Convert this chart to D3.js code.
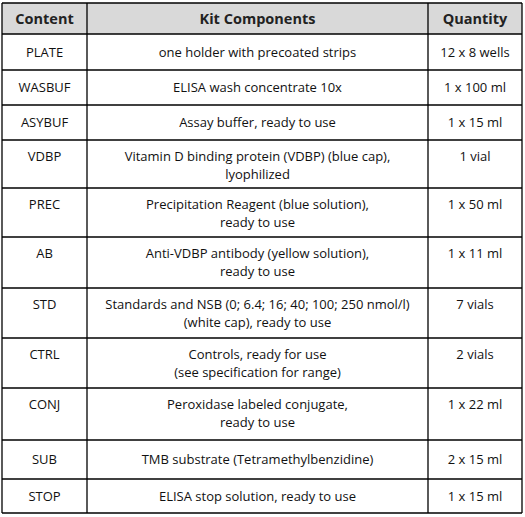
<!DOCTYPE html>
<html><head><meta charset="utf-8">
<script src="https://cdn.jsdelivr.net/npm/d3@7"></script>
<style>body{margin:0;background:#fff}</style></head>
<body><svg id="c" width="525" height="517"></svg>
<script>
const headers = ["Content","Kit Components","Quantity"];
const codes = ["PLATE","WASBUF","ASYBUF","VDBP","PREC","AB","STD","CTRL","CONJ","SUB","STOP"];
const components = [
 ["one holder with precoated strips"],
 ["ELISA wash concentrate 10x"],
 ["Assay buffer, ready to use"],
 ["Vitamin D binding protein (VDBP) (blue cap),","lyophilized"],
 ["Precipitation Reagent (blue solution),","ready to use"],
 ["Anti-VDBP antibody (yellow solution),","ready to use"],
 ["Standards and NSB (0; 6.4; 16; 40; 100; 250 nmol/l)","(white cap), ready to use"],
 ["Controls, ready for use","(see specification for range)"],
 ["Peroxidase labeled conjugate,","ready to use"],
 ["TMB substrate (Tetramethylbenzidine)"],
 ["ELISA stop solution, ready to use"]
];
const quantities = ["12 x 8 wells","1 x 100 ml","1 x 15 ml","1 vial","1 x 50 ml","1 x 11 ml","7 vials","2 vials","1 x 22 ml","2 x 15 ml","1 x 15 ml"];
const rowBounds = [3,34,70,105,140,188,237,288,338,388,440,479,513];
const colBounds = [2,87,428,522];

const svg = d3.select("#c");
const font = "'Open Sans', 'Liberation Sans', sans-serif";
svg.append("rect").attr("x",colBounds[0]).attr("y",rowBounds[0])
  .attr("width",colBounds[3]-colBounds[0]).attr("height",rowBounds[1]-rowBounds[0]).attr("fill","#d9d9d9");
const cx = i => (colBounds[i]+colBounds[i+1])/2;
headers.forEach((h,i)=>svg.append("text").attr("x",cx(i)).attr("y",(rowBounds[0]+rowBounds[1])/2)
  .attr("dy","0.35em").attr("text-anchor","middle").attr("font-family",font).attr("font-size",14.5)
  .attr("font-weight","bold").attr("fill","#222").text(h));
codes.forEach((c,r)=>{
  const y0=rowBounds[r+1], y1=rowBounds[r+2];
  const top = components[r].length===1 ? (y0+y1)/2 : y0+16;
  const t = (x,y,s)=>svg.append("text").attr("x",x).attr("y",y).attr("dy","0.35em")
    .attr("text-anchor","middle").attr("font-family",font).attr("font-size",13).attr("fill","#111").text(s);
  t(cx(0),top,c);
  components[r].forEach((s,k)=>t(cx(1),top+k*18,s));
  t(cx(2),top,quantities[r]);
});
rowBounds.forEach(y=>svg.append("line").attr("x1",colBounds[0]).attr("x2",colBounds[3]).attr("y1",y).attr("y2",y)
  .attr("stroke","#000").attr("stroke-width",1.3));
colBounds.forEach(x=>svg.append("line").attr("x1",x).attr("x2",x).attr("y1",rowBounds[0]).attr("y2",rowBounds[12])
  .attr("stroke","#000").attr("stroke-width",1.3));
</script></body></html>
